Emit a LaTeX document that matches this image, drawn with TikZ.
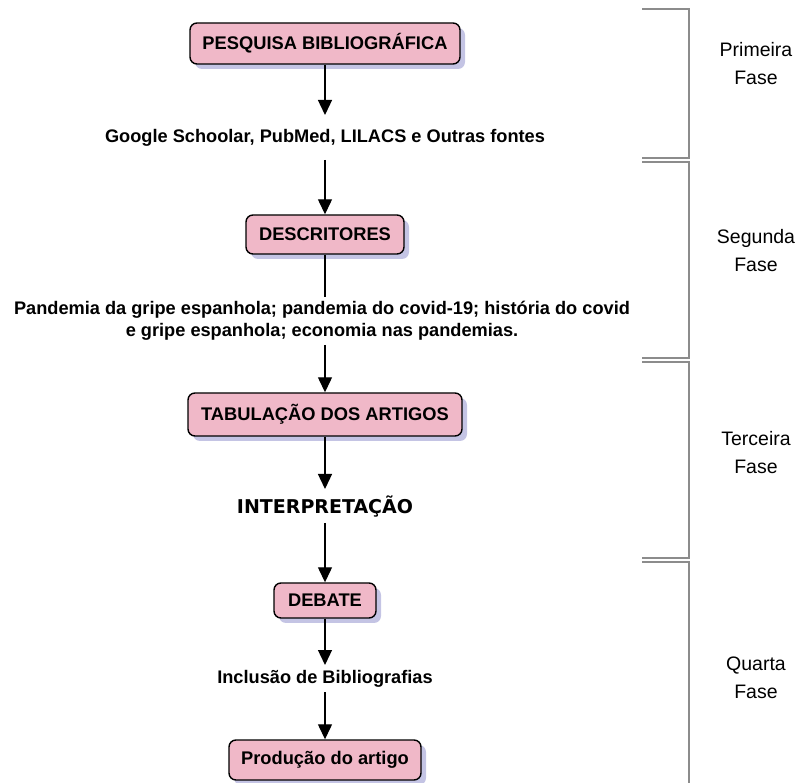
\documentclass[tikz,border=0pt]{standalone}
\usepackage{fontspec}
\setmainfont{Liberation Sans}
\newfontfamily\verd{DejaVu Sans}
\usetikzlibrary{arrows.meta,shadows}
\definecolor{boxpink}{HTML}{F0B8C8}
\definecolor{shadowblue}{HTML}{C4C4E4}
\definecolor{brackgray}{HTML}{8C8C8C}
\tikzset{
  stepbox/.style={draw=black, line width=1.4pt, fill=boxpink, rounded corners=7pt,
    font=\bfseries\fontsize{18.3}{22}\selectfont, inner sep=0pt,
    drop shadow={shadow xshift=5pt, shadow yshift=-5pt, fill=shadowblue, opacity=1}},
  lbl/.style={font=\bfseries\fontsize{18.2}{22}\selectfont, align=center, inner sep=0pt},
  phase/.style={font=\fontsize{19.5}{28}\selectfont, align=center, inner sep=0pt},
  arr/.style={line width=1.3pt, -{Triangle[width=14pt,length=15pt]}},
  ln/.style={line width=1.3pt},
  brk/.style={draw=brackgray, line width=1.4pt}
}
\begin{document}
\begin{tikzpicture}[x=1pt,y=-1pt]
\useasboundingbox (0,0) rectangle (796,783);
% boxes
\node[stepbox, minimum width=270pt, minimum height=41pt] (b1) at (325,43.5) {PESQUISA BIBLIOGRÁFICA};
\node[lbl] (t1) at (325,138) {Google Schoolar, PubMed, LILACS e Outras fontes};
\node[stepbox, minimum width=158pt, minimum height=39pt] (b2) at (325,234.5) {DESCRITORES};
\node[lbl] (t2) at (322,321) {Pandemia da gripe espanhola; pandemia do covid-19; história do covid\\e gripe espanhola; economia nas pandemias.};
\node[stepbox, minimum width=274pt, minimum height=43pt] (b3) at (325,414.5) {TABULAÇÃO DOS ARTIGOS};
\node[font=\verd\bfseries\fontsize{19}{22}\selectfont, inner sep=0pt] (t3) at (325,507) {INTERPRETAÇÃO};
\node[stepbox, minimum width=102pt, minimum height=35pt] (b4) at (325,600.5) {DEBATE};
\node[lbl] (t4) at (325,679) {Inclusão de Bibliografias};
\node[stepbox, minimum width=192pt, minimum height=40pt] (b5) at (325,760) {Produção do artigo};
% connectors
\draw[arr] (b1.south) -- (325,115) coordinate (e1);
\draw[arr] (325,160) coordinate (s2) -- (b2.north);
\draw[ln] (b2.south) -- (325,297) coordinate (e3);
\draw[arr] (325,345) coordinate (s4) -- (b3.north);
\draw[arr] (b3.south) -- (325,489) coordinate (e5);
\draw[arr] (325,523) coordinate (s6) -- (b4.north);
\draw[arr] (b4.south) -- (325,665) coordinate (e7);
\draw[arr] (325,692) coordinate (s8) -- (b5.north);
% brackets
\draw[brk] (642,9) -- (689,9) -- (689,158) -- (642,158);
\draw[brk] (642,162) -- (689,162) -- (689,358) -- (642,358);
\draw[brk] (642,362) -- (689,362) -- (689,558) -- (642,558);
\draw[brk] (642,562) -- (689,562) -- (689,790);
% phase labels
\node[phase] (p1) at (756,64) {Primeira\\Fase};
\node[phase] (p2) at (756,251) {Segunda\\Fase};
\node[phase] (p3) at (756,453) {Terceira\\Fase};
\node[phase] (p4) at (756,678) {Quarta\\Fase};
\end{tikzpicture}
\end{document}
